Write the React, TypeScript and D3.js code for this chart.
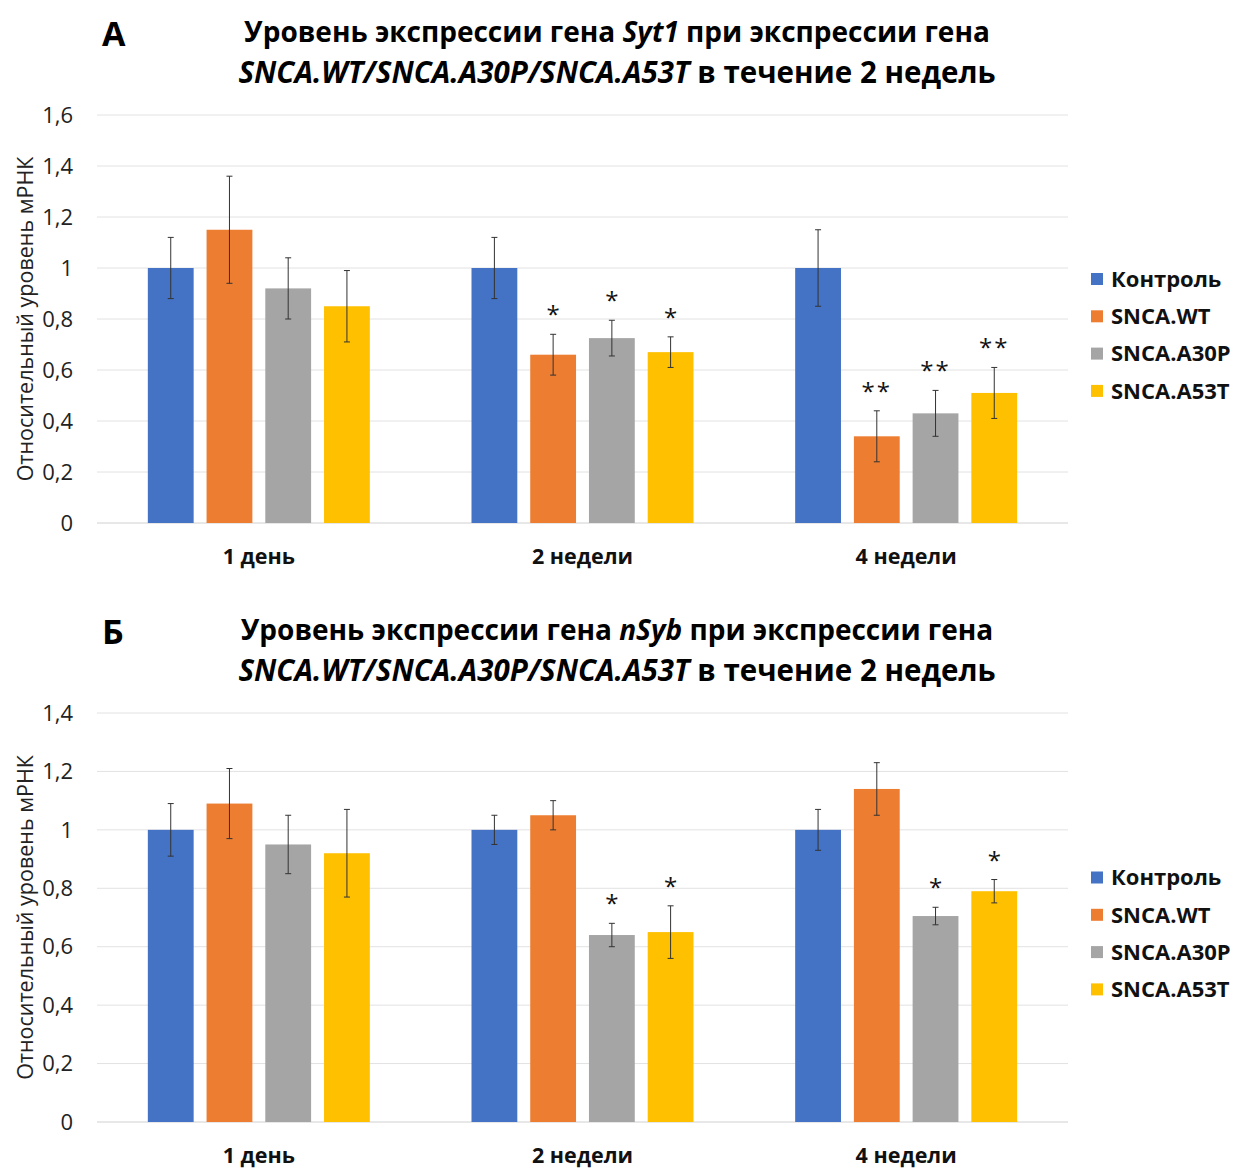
import React from 'react';
import * as d3 from 'd3';

// ---- data ----
const categories = ['1 день', '2 недели', '4 недели'];
const seriesNames = ['Контроль', 'SNCA.WT', 'SNCA.A30P', 'SNCA.A53T'];
const seriesColors = ['#4472C4', '#ED7D31', '#A5A5A5', '#FFC000'];

// Syt1, values per category (series order as seriesNames)
const syt1Values = [
    [1.0, 1.15, 0.92, 0.85],
    [1.0, 0.66, 0.725, 0.67],
    [1.0, 0.34, 0.43, 0.51]
];
const syt1Errors = [
    [0.12, 0.21, 0.12, 0.14],
    [0.12, 0.08, 0.07, 0.06],
    [0.15, 0.10, 0.09, 0.10]
];
const syt1Marks = [
    ['', '', '', ''],
    ['', '*', '*', '*'],
    ['', '**', '**', '**']
];
const syt1Ticks = [0, 0.2, 0.4, 0.6, 0.8, 1, 1.2, 1.4, 1.6];

// nSyb
const nsybValues = [
    [1.0, 1.09, 0.95, 0.92],
    [1.0, 1.05, 0.64, 0.65],
    [1.0, 1.14, 0.705, 0.79]
];
const nsybErrors = [
    [0.09, 0.12, 0.10, 0.15],
    [0.05, 0.05, 0.04, 0.09],
    [0.07, 0.09, 0.03, 0.04]
];
const nsybMarks = [
    ['', '', '', ''],
    ['', '', '*', '*'],
    ['', '', '*', '*']
];
const nsybTicks = [0, 0.2, 0.4, 0.6, 0.8, 1, 1.2, 1.4];

const FONT = '"Open Sans", "Noto Sans", sans-serif';
const fmt = (t: number) => d3.format('~g')(t).replace('.', ',');

type PanelProps = {
    letter: string;
    gene: string;
    values: number[][];
    errors: number[][];
    marks: string[][];
    ticks: number[];
    top: number;      // pixel y of max tick
    bottom: number;   // pixel y of 0
    titleY: number;
};

function Panel({ letter, gene, values, errors, marks, ticks, top, bottom, titleY }: PanelProps) {
    const left = 97;
    const right = 1068;
    const yMax = ticks[ticks.length - 1];

    const y = d3.scaleLinear().domain([0, yMax]).range([bottom, top]);
    const x0 = d3.scaleBand().domain(categories).range([left, right]);
    const groupWidth = 222;
    const x1 = d3.scaleBand()
        .domain(seriesNames)
        .range([-groupWidth / 2, groupWidth / 2])
        .paddingInner(0.22);

    return (
        <g>
            <text x={102} y={titleY + 14} fontFamily={FONT} fontWeight={700} fontSize={34}>{letter}</text>
            <text x={617} y={titleY + 10} textAnchor='middle' fontFamily={FONT} fontWeight={700} fontSize={28}>
                Уровень экспрессии гена <tspan fontStyle='italic'>{gene}</tspan> при экспрессии гена
            </text>
            <text x={617} y={titleY + 51} textAnchor='middle' fontFamily={FONT} fontWeight={700} fontSize={29.5}>
                <tspan fontStyle='italic'>SNCA.WT/SNCA.A30P/SNCA.A53T</tspan> в течение 2 недель
            </text>

            {ticks.map(t => (
                <g key={t}>
                    <line x1={left} x2={right} y1={y(t)} y2={y(t)}
                        stroke={t === 0 ? '#d0d0d0' : '#e2e2e2'} strokeWidth={1} />
                    <text x={73} y={y(t)} dy='0.35em' textAnchor='end'
                        fontFamily={FONT} fontSize={22} fill='#222'>{fmt(t)}</text>
                </g>
            ))}

            <text transform={`translate(25, ${(top + bottom) / 2}) rotate(-90)`}
                textAnchor='middle' dy='0.35em' fontFamily={FONT} fontSize={21.5} fill='#222'>
                Относительный уровень мРНК
            </text>

            {categories.map((c, ci) => {
                const cx = (x0(c) as number) + x0.bandwidth() / 2;
                return (
                    <g key={c}>
                        {seriesNames.map((s, si) => {
                            const v = values[ci][si];
                            const e = errors[ci][si];
                            const bx = cx + (x1(s) as number);
                            const mid = bx + x1.bandwidth() / 2;
                            return (
                                <g key={s}>
                                    <rect x={bx} y={y(v)} width={x1.bandwidth()} height={bottom - y(v)}
                                        fill={seriesColors[si]} />
                                    <line x1={mid} x2={mid} y1={y(v + e)} y2={y(v - e)} stroke='#333' strokeWidth={1} />
                                    <line x1={mid - 3} x2={mid + 3} y1={y(v + e)} y2={y(v + e)} stroke='#333' strokeWidth={1} />
                                    <line x1={mid - 3} x2={mid + 3} y1={y(v - e)} y2={y(v - e)} stroke='#333' strokeWidth={1} />
                                    {marks[ci][si] && (
                                        <text x={mid} y={y(v + e) - 11} textAnchor='middle' fontFamily={FONT}
                                            fontSize={24} letterSpacing={marks[ci][si].length > 1 ? 2 : 0}
                                            fill='#111'>{marks[ci][si]}</text>
                                    )}
                                </g>
                            );
                        })}
                        <text x={cx} y={bottom + 33} dy='0.35em' textAnchor='middle' fontFamily={FONT}
                            fontWeight={700} fontSize={21.5} fill='#111'>{c}</text>
                    </g>
                );
            })}

            {seriesNames.map((s, si) => {
                const ly = (top + bottom) / 2 - 40 + si * 37.3;
                return (
                    <g key={s}>
                        <rect x={1091} y={ly - 6} width={12} height={12} fill={seriesColors[si]} />
                        <text x={1111} y={ly} dy='0.35em' fontFamily={FONT} fontWeight={700} fontSize={22}
                            fill='#111'>{s}</text>
                    </g>
                );
            })}
        </g>
    );
}

export default function App() {
    return (
        <svg width={1234} height={1168} style={{ position: 'absolute', left: 0, top: 0, background: '#fff' }}>
            <rect width={1234} height={1168} fill='#fff' />
            <Panel letter='А' gene='Syt1' values={syt1Values} errors={syt1Errors} marks={syt1Marks}
                ticks={syt1Ticks} top={115} bottom={523} titleY={32} />
            <Panel letter='Б' gene='nSyb' values={nsybValues} errors={nsybErrors} marks={nsybMarks}
                ticks={nsybTicks} top={713} bottom={1122} titleY={630} />
        </svg>
    );
}
